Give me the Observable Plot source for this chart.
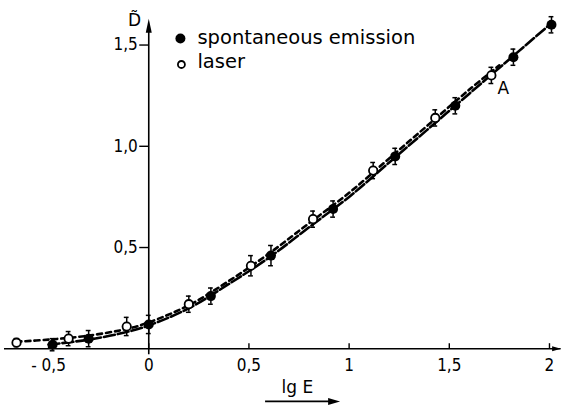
<!DOCTYPE html>
<html>
<head>
<meta charset="utf-8">
<script src="https://cdn.jsdelivr.net/npm/d3@7"></script>
<script src="https://cdn.jsdelivr.net/npm/@observablehq/plot@0.6"></script>
<style>
  html, body { margin: 0; padding: 0; background: #fff; }
  #chart svg { display: block; }
</style>
</head>
<body>
<div id="chart"></div>
<script>
// ---- data ----
const spontX   = [-0.48, -0.30, 0.00, 0.31, 0.61, 0.92, 1.23, 1.53, 1.82, 2.01];
const spontY   = [ 0.02,  0.05, 0.12, 0.26, 0.46, 0.69, 0.95, 1.20, 1.44, 1.60];
const spontErr = [ 0.03,  0.04, 0.045, 0.04, 0.05, 0.04, 0.04, 0.04, 0.04, 0.04];

const laserX   = [-0.66, -0.40, -0.11, 0.20, 0.51, 0.82, 1.12, 1.43, 1.71];
const laserY   = [ 0.03,  0.05,  0.11, 0.22, 0.41, 0.64, 0.88, 1.14, 1.35];
const laserErr = [ 0.02,  0.035, 0.045, 0.04, 0.05, 0.04, 0.04, 0.04, 0.04];

// fitted curves as drawn
const spontCurveX = [-0.5, -0.3, -0.1, 0.0, 0.2, 0.4, 0.6, 0.8, 1.0, 1.2, 1.4, 1.6, 1.8, 2.0];
const spontCurveY = [0.02, 0.045, 0.085, 0.115, 0.2, 0.32, 0.45, 0.6, 0.75, 0.92, 1.09, 1.26, 1.43, 1.6];
const laserCurveX = [-0.66, -0.5, -0.3, -0.1, 0.0, 0.2, 0.4, 0.6, 0.8, 1.0, 1.2, 1.4, 1.6, 1.75];
const laserCurveY = [0.035, 0.045, 0.065, 0.1, 0.13, 0.215, 0.335, 0.47, 0.62, 0.77, 0.94, 1.11, 1.28, 1.40];

const xTicks = [-0.5, 0, 0.5, 1, 1.5, 2];
const xTickLabels = ["- 0,5", "0", "0,5", "1", "1,5", "2"];
const yTicks = [0.5, 1.0, 1.5];
const yTickLabels = ["0,5", "1,0", "1,5"];

const seriesNames = ["spontaneous emission", "laser"];
const xAxisExtent = [-0.72, 2.058];
const yAxisExtent = [-0.03, 1.63];

// ---- tables ----
const spont = spontX.map((x, i) => ({x, y: spontY[i], e: spontErr[i]}));
const laser = laserX.map((x, i) => ({x, y: laserY[i], e: laserErr[i]}));
const spontCurve = spontCurveX.map((x, i) => ({x, y: spontCurveY[i]}));
const laserCurve = laserCurveX.map((x, i) => ({x, y: laserCurveY[i]}));
const allPts = spont.concat(laser);

const font = "DejaVu Sans";
const arrowHead = (len, half) => ({
  draw(ctx, size) { ctx.moveTo(0, 0); ctx.lineTo(half, len); ctx.lineTo(-half, len); ctx.closePath(); }
});

const chart = Plot.plot({
  width: 561,
  height: 409,
  marginLeft: 8,
  marginRight: 2,
  marginTop: 0,
  marginBottom: 0,
  style: {fontFamily: font, background: "#fff"},
  x: {domain: [-0.7, 2.05], axis: null},
  y: {domain: [-0.3, 1.72], axis: null},
  marks: [
    // axes
    Plot.ruleY([0], {x1: xAxisExtent[0], x2: xAxisExtent[1], stroke: "#000", strokeWidth: 1.4}),
    Plot.ruleX([0], {y1: yAxisExtent[0], y2: yAxisExtent[1] - 0.05, stroke: "#000", strokeWidth: 1.6}),
    Plot.dot([0], {x: xAxisExtent[1], y: 0, symbol: arrowHead(9, 2.5), r: 4, rotate: 90, fill: "#000", stroke: "none"}),
    Plot.dot([0], {x: 0, y: yAxisExtent[1], symbol: arrowHead(14, 3), r: 4, fill: "#000", stroke: "none"}),
    Plot.ruleX(xTicks, {x: d => d, y1: 0, y2: 0.025, stroke: "#000", strokeWidth: 1.4}),
    Plot.ruleY(yTicks, {y: d => d, x1: -0.045, x2: 0, stroke: "#000", strokeWidth: 1.4}),
    Plot.text(xTicks, {x: d => d, y: 0, dy: 17, text: (d, i) => xTickLabels[i], fontSize: 17, fontFamily: "DejaVu Sans Condensed", fill: "#000"}),
    Plot.text(yTicks, {x: 0, y: d => d, dx: -11, text: (d, i) => yTickLabels[i], textAnchor: "end", fontSize: 17, fontFamily: "DejaVu Sans Condensed", fill: "#000"}),
    Plot.text(["D\u0303"], {x: -0.071, y: 1.62, fontSize: 17, fill: "#000"}),
    Plot.text(["lg E"], {x: 0.742, y: -0.19, fontSize: 17, fill: "#000"}),
    Plot.ruleY([0], {y: -0.26, x1: 0.583, x2: 0.93, stroke: "#000", strokeWidth: 1.6}),
    Plot.dot([0], {x: 0.955, y: -0.26, symbol: arrowHead(12, 3.5), r: 4, rotate: 90, fill: "#000", stroke: "none"}),

    // curves
    Plot.line(spontCurve, {x: "x", y: "y", curve: "catmull-rom", stroke: "#000", strokeWidth: 2.6, strokeDasharray: "11,3"}),
    Plot.line(laserCurve, {x: "x", y: "y", curve: "catmull-rom", stroke: "#000", strokeWidth: 2.6, strokeDasharray: "5,4"}),

    // error bars
    Plot.ruleX(allPts, {x: "x", y1: d => d.y - d.e, y2: d => d.y + d.e, stroke: "#000", strokeWidth: 1.5}),
    Plot.ruleY(allPts, {y: d => d.y + d.e, x1: d => d.x - 0.012, x2: d => d.x + 0.012, stroke: "#000", strokeWidth: 1.5}),
    Plot.ruleY(allPts, {y: d => d.y - d.e, x1: d => d.x - 0.012, x2: d => d.x + 0.012, stroke: "#000", strokeWidth: 1.5}),

    // points
    Plot.dot(spont, {x: "x", y: "y", r: 5, fill: "#000", stroke: "none"}),
    Plot.dot(laser, {x: "x", y: "y", r: 4.2, fill: "#fff", stroke: "#000", strokeWidth: 1.8}),
    Plot.text(["A"], {x: 1.77, y: 1.285, fontSize: 17, fill: "#000"}),

    // legend
    Plot.dot([seriesNames[0]], {x: 0.158, y: 1.532, r: 5, fill: "#000", stroke: "none"}),
    Plot.dot([seriesNames[1]], {x: 0.163, y: 1.404, r: 3.5, fill: "#fff", stroke: "#000", strokeWidth: 1.8}),
    Plot.text([seriesNames[0]], {x: 0.243, y: 1.535, text: d => d, textAnchor: "start", fontSize: 19.5, fill: "#000"}),
    Plot.text([seriesNames[1]], {x: 0.243, y: 1.418, text: d => d, textAnchor: "start", fontSize: 19.5, fill: "#000"})
  ]
});
document.getElementById("chart").appendChild(chart);
</script>
</body>
</html>
